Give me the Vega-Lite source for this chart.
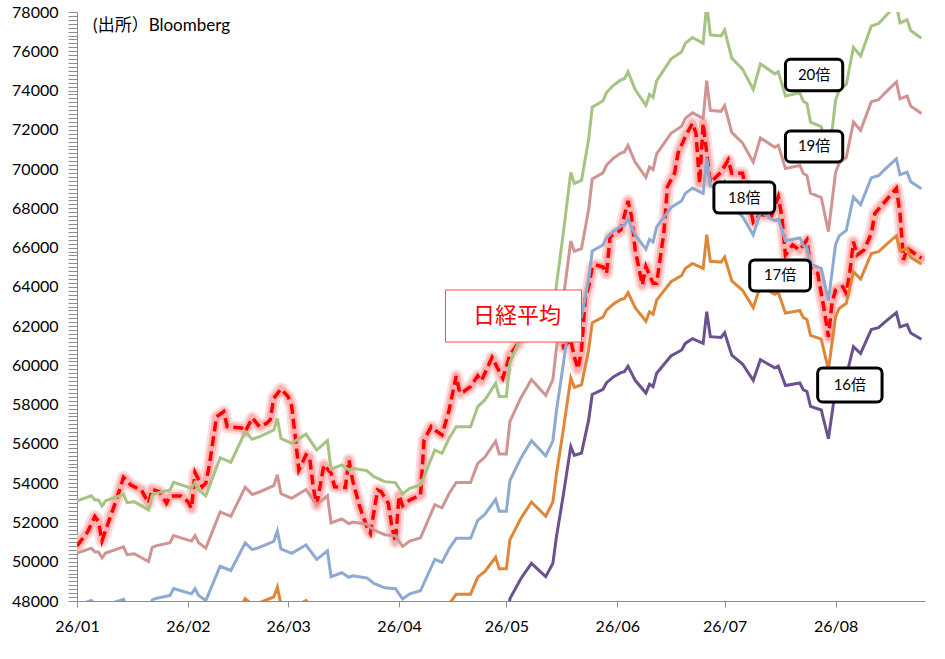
{
  "$schema": "https://vega.github.io/schema/vega-lite/v6.json",
  "width": 848,
  "height": 589,
  "autosize": {"type": "none"},
  "padding": {"left": 77, "top": 12, "right": 20, "bottom": 58},
  "background": "white",
  "datasets": {
    "bands": [
      {"d":"2026-01-01","b20":53100,"b19":50445,"b18":47790,"b17":45135,"b16":42480},
      {"d":"2026-01-05","b20":53360,"b19":50692,"b18":48024,"b17":45356,"b16":42688},
      {"d":"2026-01-06","b20":53150,"b19":50493,"b18":47835,"b17":45178,"b16":42520},
      {"d":"2026-01-07","b20":53150,"b19":50493,"b18":47835,"b17":45178,"b16":42520},
      {"d":"2026-01-08","b20":52840,"b19":50198,"b18":47556,"b17":44914,"b16":42272},
      {"d":"2026-01-09","b20":53100,"b19":50445,"b18":47790,"b17":45135,"b16":42480},
      {"d":"2026-01-14","b20":53430,"b19":50759,"b18":48087,"b17":45416,"b16":42744},
      {"d":"2026-01-15","b20":53010,"b19":50360,"b18":47709,"b17":45059,"b16":42408},
      {"d":"2026-01-17","b20":53060,"b19":50407,"b18":47754,"b17":45101,"b16":42448},
      {"d":"2026-01-21","b20":52640,"b19":50008,"b18":47376,"b17":44744,"b16":42112},
      {"d":"2026-01-22","b20":53390,"b19":50721,"b18":48051,"b17":45382,"b16":42712},
      {"d":"2026-01-23","b20":53480,"b19":50806,"b18":48132,"b17":45458,"b16":42784},
      {"d":"2026-01-27","b20":53650,"b19":50968,"b18":48285,"b17":45603,"b16":42920},
      {"d":"2026-01-28","b20":54040,"b19":51338,"b18":48636,"b17":45934,"b16":43232},
      {"d":"2026-01-31","b20":53860,"b19":51167,"b18":48474,"b17":45781,"b16":43088},
      {"d":"2026-02-02","b20":53740,"b19":51053,"b18":48366,"b17":45679,"b16":42992},
      {"d":"2026-02-03","b20":54030,"b19":51329,"b18":48627,"b17":45926,"b16":43224},
      {"d":"2026-02-04","b20":53650,"b19":50968,"b18":48285,"b17":45603,"b16":42920},
      {"d":"2026-02-06","b20":53360,"b19":50692,"b18":48024,"b17":45356,"b16":42688},
      {"d":"2026-02-10","b20":55300,"b19":52535,"b18":49770,"b17":47005,"b16":44240},
      {"d":"2026-02-13","b20":55060,"b19":52307,"b18":49554,"b17":46801,"b16":44048},
      {"d":"2026-02-17","b20":56620,"b19":53789,"b18":50958,"b17":48127,"b16":45296},
      {"d":"2026-02-19","b20":56240,"b19":53428,"b18":50616,"b17":47804,"b16":44992},
      {"d":"2026-02-21","b20":56370,"b19":53552,"b18":50733,"b17":47915,"b16":45096},
      {"d":"2026-02-25","b20":56710,"b19":53875,"b18":51039,"b17":48204,"b16":45368},
      {"d":"2026-02-26","b20":57300,"b19":54435,"b18":51570,"b17":48705,"b16":45840},
      {"d":"2026-02-27","b20":56280,"b19":53466,"b18":50652,"b17":47838,"b16":45024},
      {"d":"2026-03-02","b20":56030,"b19":53229,"b18":50427,"b17":47626,"b16":44824},
      {"d":"2026-03-06","b20":56500,"b19":53675,"b18":50850,"b17":48025,"b16":45200},
      {"d":"2026-03-09","b20":55690,"b19":52906,"b18":50121,"b17":47337,"b16":44552},
      {"d":"2026-03-12","b20":56170,"b19":53362,"b18":50553,"b17":47745,"b16":44936},
      {"d":"2026-03-13","b20":54710,"b19":51975,"b18":49239,"b17":46504,"b16":43768},
      {"d":"2026-03-16","b20":54930,"b19":52184,"b18":49437,"b17":46691,"b16":43944},
      {"d":"2026-03-18","b20":54670,"b19":51937,"b18":49203,"b17":46470,"b16":43736},
      {"d":"2026-03-19","b20":54760,"b19":52022,"b18":49284,"b17":46546,"b16":43808},
      {"d":"2026-03-23","b20":54640,"b19":51908,"b18":49176,"b17":46444,"b16":43712},
      {"d":"2026-03-25","b20":54330,"b19":51614,"b18":48897,"b17":46181,"b16":43464},
      {"d":"2026-03-28","b20":54080,"b19":51376,"b18":48672,"b17":45968,"b16":43264},
      {"d":"2026-03-31","b20":54030,"b19":51329,"b18":48627,"b17":45926,"b16":43224},
      {"d":"2026-04-02","b20":53450,"b19":50778,"b18":48105,"b17":45433,"b16":42760},
      {"d":"2026-04-04","b20":53740,"b19":51053,"b18":48366,"b17":45679,"b16":42992},
      {"d":"2026-04-07","b20":53910,"b19":51215,"b18":48519,"b17":45824,"b16":43128},
      {"d":"2026-04-11","b20":55690,"b19":52906,"b18":50121,"b17":47337,"b16":44552},
      {"d":"2026-04-13","b20":55520,"b19":52744,"b18":49968,"b17":47192,"b16":44416},
      {"d":"2026-04-15","b20":56290,"b19":53476,"b18":50661,"b17":47847,"b16":45032},
      {"d":"2026-04-17","b20":56880,"b19":54036,"b18":51192,"b17":48348,"b16":45504},
      {"d":"2026-04-21","b20":56880,"b19":54036,"b18":51192,"b17":48348,"b16":45504},
      {"d":"2026-04-23","b20":57900,"b19":55005,"b18":52110,"b17":49215,"b16":46320},
      {"d":"2026-04-25","b20":58240,"b19":55328,"b18":52416,"b17":49504,"b16":46592},
      {"d":"2026-04-28","b20":59090,"b19":56136,"b18":53181,"b17":50227,"b16":47272},
      {"d":"2026-04-29","b20":58410,"b19":55490,"b18":52569,"b17":49649,"b16":46728},
      {"d":"2026-05-01","b20":58410,"b19":55490,"b18":52569,"b17":49649,"b16":46728},
      {"d":"2026-05-02","b20":60150,"b19":57143,"b18":54135,"b17":51128,"b16":48120},
      {"d":"2026-05-05","b20":61400,"b19":58330,"b18":55260,"b17":52190,"b16":49120},
      {"d":"2026-05-08","b20":62400,"b19":59280,"b18":56160,"b17":53040,"b16":49920},
      {"d":"2026-05-12","b20":61550,"b19":58473,"b18":55395,"b17":52318,"b16":49240},
      {"d":"2026-05-14","b20":62400,"b19":59280,"b18":56160,"b17":53040,"b16":49920},
      {"d":"2026-05-15","b20":64100,"b19":60895,"b18":57690,"b17":54485,"b16":51280},
      {"d":"2026-05-16","b20":65480,"b19":62206,"b18":58932,"b17":55658,"b16":52384},
      {"d":"2026-05-17","b20":66860,"b19":63517,"b18":60174,"b17":56831,"b16":53488},
      {"d":"2026-05-19","b20":69830,"b19":66339,"b18":62847,"b17":59356,"b16":55864},
      {"d":"2026-05-20","b20":69270,"b19":65807,"b18":62343,"b17":58880,"b16":55416},
      {"d":"2026-05-22","b20":69420,"b19":65949,"b18":62478,"b17":59007,"b16":55536},
      {"d":"2026-05-24","b20":71530,"b19":67954,"b18":64377,"b17":60801,"b16":57224},
      {"d":"2026-05-25","b20":73150,"b19":69493,"b18":65835,"b17":62178,"b16":58520},
      {"d":"2026-05-28","b20":73480,"b19":69806,"b18":66132,"b17":62458,"b16":58784},
      {"d":"2026-05-29","b20":73900,"b19":70205,"b18":66510,"b17":62815,"b16":59120},
      {"d":"2026-05-31","b20":74280,"b19":70566,"b18":66852,"b17":63138,"b16":59424},
      {"d":"2026-06-02","b20":74540,"b19":70813,"b18":67086,"b17":63359,"b16":59632},
      {"d":"2026-06-03","b20":74600,"b19":70870,"b18":67140,"b17":63410,"b16":59680},
      {"d":"2026-06-04","b20":74950,"b19":71203,"b18":67455,"b17":63708,"b16":59960},
      {"d":"2026-06-06","b20":74050,"b19":70348,"b18":66645,"b17":62943,"b16":59240},
      {"d":"2026-06-09","b20":73240,"b19":69578,"b18":65916,"b17":62254,"b16":58592},
      {"d":"2026-06-10","b20":73800,"b19":70110,"b18":66420,"b17":62730,"b16":59040},
      {"d":"2026-06-11","b20":73650,"b19":69968,"b18":66285,"b17":62603,"b16":58920},
      {"d":"2026-06-12","b20":74500,"b19":70775,"b18":67050,"b17":63325,"b16":59600},
      {"d":"2026-06-16","b20":75600,"b19":71820,"b18":68040,"b17":64260,"b16":60480},
      {"d":"2026-06-19","b20":75980,"b19":72181,"b18":68382,"b17":64583,"b16":60784},
      {"d":"2026-06-20","b20":76400,"b19":72580,"b18":68760,"b17":64940,"b16":61120},
      {"d":"2026-06-22","b20":76700,"b19":72865,"b18":69030,"b17":65195,"b16":61360},
      {"d":"2026-06-25","b20":76400,"b19":72580,"b18":68760,"b17":64940,"b16":61120},
      {"d":"2026-06-26","b20":78420,"b19":74499,"b18":70578,"b17":66657,"b16":62736},
      {"d":"2026-06-27","b20":76830,"b19":72989,"b18":69147,"b17":65306,"b16":61464},
      {"d":"2026-06-30","b20":76780,"b19":72941,"b18":69102,"b17":65263,"b16":61424},
      {"d":"2026-07-01","b20":77080,"b19":73226,"b18":69372,"b17":65518,"b16":61664},
      {"d":"2026-07-03","b20":75650,"b19":71868,"b18":68085,"b17":64303,"b16":60520},
      {"d":"2026-07-06","b20":75090,"b19":71336,"b18":67581,"b17":63827,"b16":60072},
      {"d":"2026-07-09","b20":74050,"b19":70348,"b18":66645,"b17":62943,"b16":59240},
      {"d":"2026-07-11","b20":75360,"b19":71592,"b18":67824,"b17":64056,"b16":60288},
      {"d":"2026-07-15","b20":74850,"b19":71108,"b18":67365,"b17":63623,"b16":59880},
      {"d":"2026-07-16","b20":74960,"b19":71212,"b18":67464,"b17":63716,"b16":59968},
      {"d":"2026-07-18","b20":73720,"b19":70034,"b18":66348,"b17":62662,"b16":58976},
      {"d":"2026-07-22","b20":73880,"b19":70186,"b18":66492,"b17":62798,"b16":59104},
      {"d":"2026-07-23","b20":73450,"b19":69778,"b18":66105,"b17":62433,"b16":58760},
      {"d":"2026-07-24","b20":73340,"b19":69673,"b18":66006,"b17":62339,"b16":58672},
      {"d":"2026-07-25","b20":72390,"b19":68771,"b18":65151,"b17":61532,"b16":57912},
      {"d":"2026-07-28","b20":72160,"b19":68552,"b18":64944,"b17":61336,"b16":57728},
      {"d":"2026-07-30","b20":70330,"b19":66814,"b18":63297,"b17":59781,"b16":56264},
      {"d":"2026-08-01","b20":73500,"b19":69825,"b18":66150,"b17":62475,"b16":58800},
      {"d":"2026-08-02","b20":74000,"b19":70300,"b18":66600,"b17":62900,"b16":59200},
      {"d":"2026-08-04","b20":74310,"b19":70595,"b18":66879,"b17":63164,"b16":59448},
      {"d":"2026-08-06","b20":76200,"b19":72390,"b18":68580,"b17":64770,"b16":60960},
      {"d":"2026-08-08","b20":75760,"b19":71972,"b18":68184,"b17":64396,"b16":60608},
      {"d":"2026-08-11","b20":77290,"b19":73426,"b18":69561,"b17":65697,"b16":61832},
      {"d":"2026-08-13","b20":77400,"b19":73530,"b18":69660,"b17":65790,"b16":61920},
      {"d":"2026-08-15","b20":77800,"b19":73910,"b18":70020,"b17":66130,"b16":62240},
      {"d":"2026-08-18","b20":78360,"b19":74442,"b18":70524,"b17":66606,"b16":62688},
      {"d":"2026-08-19","b20":77450,"b19":73578,"b18":69705,"b17":65833,"b16":61960},
      {"d":"2026-08-21","b20":77600,"b19":73720,"b18":69840,"b17":65960,"b16":62080},
      {"d":"2026-08-22","b20":77060,"b19":73207,"b18":69354,"b17":65501,"b16":61648},
      {"d":"2026-08-25","b20":76660,"b19":72827,"b18":68994,"b17":65161,"b16":61328}
    ],
    "nikkei": [
      {"d":"2026-01-01","v":50800},{"d":"2026-01-04","v":51530},{"d":"2026-01-06","v":52300},
      {"d":"2026-01-07","v":52040},{"d":"2026-01-08","v":51070},{"d":"2026-01-10","v":52130},
      {"d":"2026-01-12","v":53150},{"d":"2026-01-14","v":54300},{"d":"2026-01-16","v":53910},
      {"d":"2026-01-19","v":53655},{"d":"2026-01-21","v":52980},{"d":"2026-01-22","v":53690},
      {"d":"2026-01-24","v":53570},{"d":"2026-01-26","v":52980},{"d":"2026-01-27","v":53350},
      {"d":"2026-01-30","v":53350},{"d":"2026-02-01","v":53060},{"d":"2026-02-02","v":52720},
      {"d":"2026-02-03","v":54540},{"d":"2026-02-05","v":53820},{"d":"2026-02-06","v":54000},
      {"d":"2026-02-07","v":54930},{"d":"2026-02-09","v":57390},{"d":"2026-02-11","v":57640},
      {"d":"2026-02-12","v":56880},{"d":"2026-02-16","v":56810},{"d":"2026-02-17","v":56625},
      {"d":"2026-02-19","v":57320},{"d":"2026-02-21","v":56880},{"d":"2026-02-23","v":57050},
      {"d":"2026-02-24","v":57220},{"d":"2026-02-25","v":58330},{"d":"2026-02-27","v":58800},
      {"d":"2026-03-01","v":58410},{"d":"2026-03-02","v":57930},{"d":"2026-03-03","v":56370},
      {"d":"2026-03-04","v":54670},{"d":"2026-03-06","v":55440},{"d":"2026-03-07","v":55320},
      {"d":"2026-03-08","v":53820},{"d":"2026-03-09","v":52890},{"d":"2026-03-11","v":54930},
      {"d":"2026-03-13","v":54520},{"d":"2026-03-14","v":53820},{"d":"2026-03-17","v":53790},
      {"d":"2026-03-18","v":55180},{"d":"2026-03-19","v":54165},{"d":"2026-03-21","v":52805},
      {"d":"2026-03-23","v":51790},{"d":"2026-03-24","v":51450},{"d":"2026-03-26","v":53655},
      {"d":"2026-03-27","v":53570},{"d":"2026-03-29","v":52980},{"d":"2026-03-30","v":51790},
      {"d":"2026-03-31","v":51020},{"d":"2026-04-01","v":53350},{"d":"2026-04-02","v":52850},
      {"d":"2026-04-04","v":53150},{"d":"2026-04-07","v":53400},{"d":"2026-04-08","v":56200},
      {"d":"2026-04-10","v":56880},{"d":"2026-04-11","v":56710},{"d":"2026-04-13","v":56455},
      {"d":"2026-04-15","v":57730},{"d":"2026-04-17","v":59460},{"d":"2026-04-18","v":58580},
      {"d":"2026-04-19","v":58660},{"d":"2026-04-21","v":58920},{"d":"2026-04-23","v":59470},
      {"d":"2026-04-24","v":59210},{"d":"2026-04-27","v":60400},{"d":"2026-04-28","v":60050},
      {"d":"2026-04-30","v":59345},{"d":"2026-05-02","v":60530},{"d":"2026-05-05","v":61295},
      {"d":"2026-05-08","v":61800},{"d":"2026-05-12","v":62300},{"d":"2026-05-15","v":62600},
      {"d":"2026-05-17","v":60950},{"d":"2026-05-19","v":61295},{"d":"2026-05-20","v":60445},
      {"d":"2026-05-21","v":59818},{"d":"2026-05-22","v":60786},{"d":"2026-05-23","v":63330},
      {"d":"2026-05-24","v":64010},{"d":"2026-05-25","v":65010},{"d":"2026-05-26","v":65115},
      {"d":"2026-05-28","v":65010},{"d":"2026-05-29","v":64690},{"d":"2026-05-30","v":66556},
      {"d":"2026-06-02","v":66897},{"d":"2026-06-04","v":68374},{"d":"2026-06-05","v":67575},
      {"d":"2026-06-06","v":65879},{"d":"2026-06-08","v":64096},{"d":"2026-06-09","v":65028},
      {"d":"2026-06-11","v":64183},{"d":"2026-06-12","v":64183},{"d":"2026-06-14","v":66729},
      {"d":"2026-06-15","v":69103},{"d":"2026-06-17","v":69785},{"d":"2026-06-18","v":70819},
      {"d":"2026-06-20","v":71649},{"d":"2026-06-22","v":72331},{"d":"2026-06-23","v":71822},
      {"d":"2026-06-24","v":69276},{"d":"2026-06-25","v":72331},{"d":"2026-06-26","v":70804},
      {"d":"2026-06-27","v":69316},{"d":"2026-06-30","v":69851},{"d":"2026-07-02","v":70462},
      {"d":"2026-07-03","v":69785},{"d":"2026-07-06","v":69785},{"d":"2026-07-09","v":67300},
      {"d":"2026-07-11","v":67712},{"d":"2026-07-12","v":67661},{"d":"2026-07-14","v":67575},
      {"d":"2026-07-16","v":68593},{"d":"2026-07-17","v":67575},{"d":"2026-07-18","v":65624},
      {"d":"2026-07-20","v":66133},{"d":"2026-07-22","v":65879},{"d":"2026-07-24","v":66388},
      {"d":"2026-07-25","v":64962},{"d":"2026-07-27","v":64692},{"d":"2026-07-29","v":62655},
      {"d":"2026-07-30","v":61448},{"d":"2026-07-31","v":63179},{"d":"2026-08-01","v":63841},
      {"d":"2026-08-03","v":64010},{"d":"2026-08-04","v":63673},{"d":"2026-08-05","v":64773},
      {"d":"2026-08-06","v":66301},{"d":"2026-08-07","v":65624},{"d":"2026-08-09","v":65879},
      {"d":"2026-08-11","v":66729},{"d":"2026-08-12","v":67748},{"d":"2026-08-14","v":68171},
      {"d":"2026-08-16","v":68593},{"d":"2026-08-18","v":69021},{"d":"2026-08-19","v":67763},
      {"d":"2026-08-20","v":65369},{"d":"2026-08-21","v":65965},{"d":"2026-08-23","v":65710},
      {"d":"2026-08-25","v":65456}
    ],
    "boxes": [
      {"k":"band","d":"2026-07-18","d2":"2026-08-03","v":75590,"v2":73990},
      {"k":"band","d":"2026-07-18","d2":"2026-08-03","v":71940,"v2":70360},
      {"k":"band","d":"2026-06-28","d2":"2026-07-15","v":69340,"v2":67760},
      {"k":"band","d":"2026-07-08","d2":"2026-07-25","v":65370,"v2":63790},
      {"k":"band","d":"2026-07-27","d2":"2026-08-14","v":59870,"v2":58140},
      {"k":"index","d":"2026-04-14","d2":"2026-05-22","v":63840,"v2":61190}
    ],
    "labels": [
      {"k":"band","t":"20倍","d":"2026-07-26T00:00Z","v":74790},
      {"k":"band","t":"19倍","d":"2026-07-26T00:00Z","v":71150},
      {"k":"band","t":"18倍","d":"2026-07-06T12:00Z","v":68550},
      {"k":"band","t":"17倍","d":"2026-07-16T12:00Z","v":64580},
      {"k":"band","t":"16倍","d":"2026-08-05T00:00Z","v":59005},
      {"k":"index","t":"日経平均","d":"2026-05-04T00:00Z","v":62515},
      {"k":"note","t":"(出所）Bloomberg","d":"2026-01-05T12:00Z","v":77290}
    ]
  },
  "encoding": {
    "x": {
      "field": "d",
      "type": "temporal",
      "scale": {
        "type": "utc",
        "domain": [
          {"year": 2026, "month": 1, "date": 1, "utc": true},
          {"year": 2026, "month": 8, "date": 26, "utc": true}
        ]
      },
      "axis": {
        "title": null,
        "grid": false,
        "values": [
          {"year": 2026, "month": 1, "date": 1, "utc": true},
          {"year": 2026, "month": 2, "date": 1, "utc": true},
          {"year": 2026, "month": 3, "date": 1, "utc": true},
          {"year": 2026, "month": 4, "date": 1, "utc": true},
          {"year": 2026, "month": 5, "date": 1, "utc": true},
          {"year": 2026, "month": 6, "date": 1, "utc": true},
          {"year": 2026, "month": 7, "date": 1, "utc": true},
          {"year": 2026, "month": 8, "date": 1, "utc": true}
        ],
        "format": "%y/%m",
        "labelFont": "Lato",
        "labelFontSize": 16,
        "labelColor": "black",
        "labelPadding": 11,
        "labelFlush": false,
        "labelOverlap": false,
        "tickSize": 6,
        "tickColor": "#8c8c8c",
        "domainColor": "#8c8c8c",
        "encode": {"ticks": {"update": {"y": {"value": -5}, "y2": {"value": 6}}}}
      }
    },
    "y": {
      "field": "v",
      "type": "quantitative",
      "scale": {"domain": [48000, 78000], "nice": false, "zero": false},
      "axis": {
        "title": null,
        "grid": false,
        "tickCount": 150,
        "format": "d",
        "labelExpr": "datum.value % 2000 === 0 ? datum.label : ''",
        "labelFont": "Lato",
        "labelFontSize": 16,
        "labelColor": "black",
        "labelPadding": 10,
        "labelOverlap": false,
        "tickSize": 9,
        "tickColor": "#8c8c8c",
        "domainColor": "#8c8c8c",
        "encode": {
          "ticks": {
            "update": {
              "x": {"signal": "datum.value % 2000 === 0 ? 6 : 0"},
              "x2": {"signal": "datum.value % 2000 === 0 ? -8 : 5"}
            }
          }
        }
      }
    }
  },
  "layer": [
    {
      "data": {"name": "nikkei"},
      "mark": {"type": "line", "clip": true, "color": "#ffd2d2", "strokeWidth": 13, "opacity": 0.8, "strokeJoin": "round", "strokeCap": "round"}
    },
    {
      "data": {"name": "nikkei"},
      "mark": {"type": "line", "clip": true, "color": "#ffa0a0", "strokeWidth": 8, "opacity": 0.7, "strokeJoin": "round", "strokeCap": "round"}
    },
    {
      "data": {"name": "nikkei"},
      "mark": {"type": "line", "clip": true, "color": "#ff0000", "strokeWidth": 3.5, "strokeDash": [10, 5]}
    },
    {
      "data": {"name": "bands"},
      "transform": [{"fold": ["b16", "b17", "b18", "b19", "b20"], "as": ["band", "v"]}],
      "mark": {"type": "line", "clip": true, "strokeWidth": 3},
      "encoding": {
        "color": {
          "field": "band",
          "type": "nominal",
          "scale": {
            "domain": ["b16", "b17", "b18", "b19", "b20"],
            "range": ["#6b5190", "#df8638", "#8eaad3", "#d09492", "#a5c381"]
          },
          "legend": null
        }
      }
    },
    {
      "data": {"name": "boxes", "format": {"parse": {"d": "date", "d2": "date"}}},
      "transform": [{"filter": "datum.k === 'band'"}],
      "mark": {"type": "rect", "fill": "white", "stroke": "black", "strokeWidth": 3, "cornerRadius": 5},
      "encoding": {"x2": {"field": "d2"}, "y2": {"field": "v2"}}
    },
    {
      "data": {"name": "boxes", "format": {"parse": {"d": "date", "d2": "date"}}},
      "transform": [{"filter": "datum.k === 'index'"}],
      "mark": {"type": "rect", "fill": "white", "stroke": "#ff4a4a", "strokeWidth": 1},
      "encoding": {"x2": {"field": "d2"}, "y2": {"field": "v2"}}
    },
    {
      "data": {"name": "labels"},
      "transform": [{"filter": "datum.k === 'band'"}],
      "mark": {"type": "text", "font": "Lato, 'Noto Sans CJK JP'", "fontSize": 15, "color": "black", "align": "center", "baseline": "middle"},
      "encoding": {"text": {"field": "t"}}
    },
    {
      "data": {"name": "labels"},
      "transform": [{"filter": "datum.k === 'index'"}],
      "mark": {"type": "text", "font": "'Noto Sans CJK JP'", "fontSize": 22, "color": "#ff0000", "align": "center", "baseline": "middle"},
      "encoding": {"text": {"field": "t"}}
    },
    {
      "data": {"name": "labels"},
      "transform": [{"filter": "datum.k === 'note'"}],
      "mark": {"type": "text", "font": "Lato, 'Noto Sans CJK JP'", "fontSize": 17, "color": "black", "align": "left", "baseline": "middle"},
      "encoding": {"text": {"field": "t"}}
    }
  ],
  "config": {
    "view": {"stroke": null}
  }
}
